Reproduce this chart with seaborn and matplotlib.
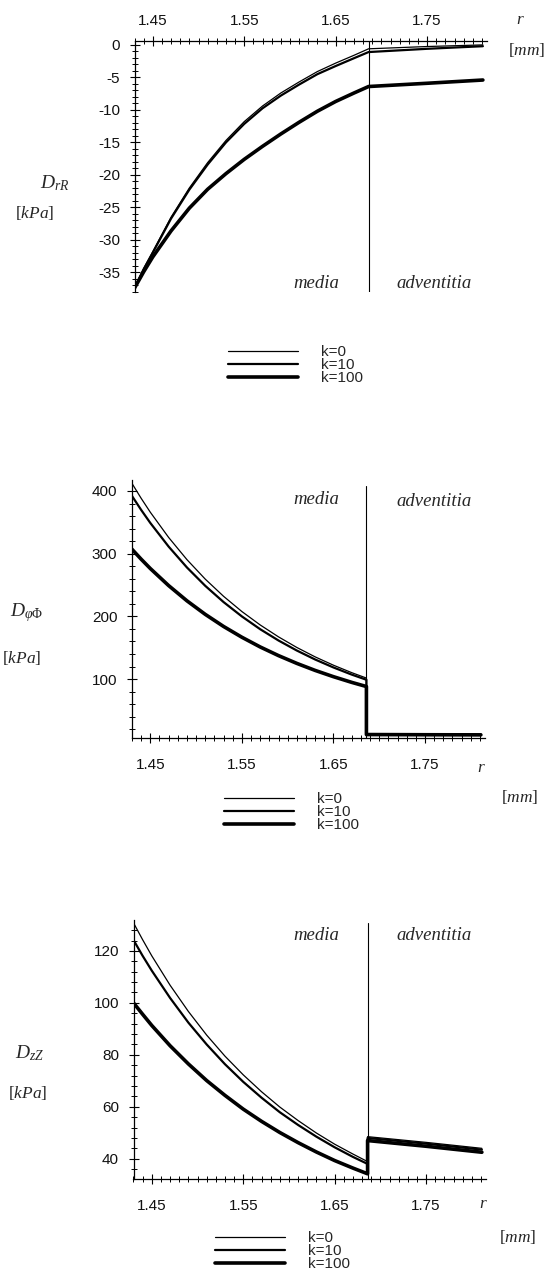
import matplotlib
matplotlib.use("Agg")
import matplotlib.pyplot as plt
from matplotlib.lines import Line2D
from matplotlib.ticker import MultipleLocator, FixedLocator, FormatStrFormatter
import numpy as np
import pandas as pd
import seaborn as sns

# ---------------- data ----------------
k_labels = ["k=0", "k=10", "k=100"]
r_media = [1.430, 1.440, 1.450, 1.470, 1.490, 1.510, 1.530, 1.550,
           1.570, 1.590, 1.610, 1.630, 1.650, 1.670, 1.686]
r_adv = [1.686, 1.750, 1.811]
r_interface = 1.686

# D_rR [kPa]
drr_media_k0 = [-37.4, -34.4, -31.8, -26.5, -22.0, -18.1, -14.7, -11.8,
                -9.4, -7.4, -5.7, -4.1, -2.8, -1.6, -0.6]
drr_media_k10 = [-37.4, -34.5, -31.95, -26.7, -22.25, -18.4, -15.0, -12.15,
                 -9.75, -7.8, -6.1, -4.5, -3.25, -2.05, -1.1]
drr_media_k100 = [-37.4, -34.9, -32.6, -28.6, -25.1, -22.2, -19.8, -17.6,
                  -15.6, -13.7, -11.9, -10.2, -8.7, -7.4, -6.4]
drr_adv_k0 = [-0.6, -0.25, 0.0]
drr_adv_k10 = [-1.1, -0.6, -0.2]
drr_adv_k100 = [-6.4, -5.9, -5.4]

# D_phiPhi [kPa]
dpp_media_k0 = [412.0, 388.3, 366.1, 325.9, 290.5, 259.4, 232.0, 207.7,
                186.3, 167.3, 150.4, 135.4, 122.1, 110.2, 101.6]
dpp_media_k10 = [392.0, 369.8, 349.0, 311.3, 278.0, 248.7, 222.8, 199.9,
                 179.5, 161.5, 145.5, 131.2, 118.5, 107.1, 98.9]
dpp_media_k100 = [307.0, 291.2, 276.3, 249.1, 224.8, 203.2, 183.9, 166.7,
                  151.2, 137.4, 125.0, 113.8, 103.8, 94.7, 88.1]
dpp_adv_k0 = [12.5, 12.2, 12.0]
dpp_adv_k10 = [12.0, 11.7, 11.5]
dpp_adv_k100 = [11.5, 11.2, 11.0]

# D_zZ [kPa]
dzz_media_k0 = [130.8, 124.3, 118.1, 106.8, 96.7, 87.6, 79.5, 72.3,
                65.8, 59.9, 54.7, 49.9, 45.6, 41.8, 38.9]
dzz_media_k10 = [124.2, 118.1, 112.4, 101.9, 92.4, 84.0, 76.4, 69.6,
                 63.5, 57.9, 53.0, 48.5, 44.4, 40.7, 38.0]
dzz_media_k100 = [100.0, 95.6, 91.3, 83.5, 76.5, 70.1, 64.4, 59.1,
                  54.4, 50.1, 46.2, 42.6, 39.3, 36.4, 34.2]
dzz_adv_k0 = [48.5, 46.3, 44.0]
dzz_adv_k10 = [48.0, 45.8, 43.5]
dzz_adv_k100 = [47.0, 44.8, 42.5]

x_ticks = [1.45, 1.55, 1.65, 1.75]
drr_ticks = [0, -5, -10, -15, -20, -25, -30, -35]
dpp_ticks = [100, 200, 300, 400]
dzz_ticks = [40, 60, 80, 100, 120]

# ---------------- helpers ----------------
def build_df(media, adv):
    rows = []
    for lab, m, a in zip(k_labels, media, adv):
        rr = r_media + r_adv
        vv = list(m) + list(a)
        for i, (x, y) in enumerate(zip(rr, vv)):
            rows.append({"k": lab, "r": x, "v": y, "i": i})
    return pd.DataFrame(rows)

W, H = 549, 1278
def fx(x):
    return x / W
def fy(y):
    return 1 - y / H

sns.set_theme(style="white")
plt.rcParams["font.family"] = ["Liberation Sans", "DejaVu Sans"]
plt.rcParams["axes.unicode_minus"] = False
plt.rcParams["mathtext.fontset"] = "custom"
plt.rcParams["mathtext.rm"] = "Liberation Serif"
plt.rcParams["mathtext.it"] = "Liberation Serif:italic"
plt.rcParams["mathtext.bf"] = "Liberation Serif:bold"

fig = plt.figure(figsize=(W / 100, H / 100), dpi=100)
fig.patch.set_facecolor("white")

palette = {lab: "black" for lab in k_labels}
sizes = {"k=0": 0.9, "k=10": 1.6, "k=100": 2.6}

# (left, top, right, bottom) in pixels
boxes = [
    (134.5, 41, 487, 292),
    (132.0, 480, 485, 738),
    (133.5, 920, 486, 1179),
]
ylims = [(-38.0, 0.6), (6, 417.5), (32.2, 131.9)]
yticks = [drr_ticks, dpp_ticks, dzz_ticks]
yminor = [1, 20, 4]
dfs = [
    build_df([drr_media_k0, drr_media_k10, drr_media_k100], [drr_adv_k0, drr_adv_k10, drr_adv_k100]),
    build_df([dpp_media_k0, dpp_media_k10, dpp_media_k100], [dpp_adv_k0, dpp_adv_k10, dpp_adv_k100]),
    build_df([dzz_media_k0, dzz_media_k10, dzz_media_k100], [dzz_adv_k0, dzz_adv_k10, dzz_adv_k100]),
]
vline_top = [1.0, 0.977, 0.99]

axes = []
for j, (box, df) in enumerate(zip(boxes, dfs)):
    l, t, r, b = box
    ax = fig.add_axes([fx(l), fy(b), (r - l) / W, (b - t) / H])
    ax.set_facecolor("white")
    sns.lineplot(data=df, x="r", y="v", hue="k", size="k", sizes=sizes,
                 palette=palette, estimator=None, sort=False, units="k",
                 legend=False, ax=ax)
    for ln in ax.lines:
        ln.set_solid_joinstyle("round")
    ax.set_xlim(1.43, 1.8155)
    ax.set_ylim(*ylims[j])
    ax.axvline(r_interface, ymin=0, ymax=vline_top[j], color="black", lw=0.8)
    ax.set_xlabel("")
    ax.set_ylabel("")
    ax.xaxis.set_major_locator(FixedLocator(x_ticks))
    ax.xaxis.set_minor_locator(MultipleLocator(0.01))
    ax.xaxis.set_major_formatter(FormatStrFormatter("%.2f"))
    ax.yaxis.set_major_locator(FixedLocator(yticks[j]))
    ax.yaxis.set_minor_locator(MultipleLocator(yminor[j]))
    for s in ax.spines.values():
        s.set_visible(False)
        s.set_color("black")
        s.set_linewidth(0.9)
    ax.spines["left"].set_visible(True)
    if j == 0:
        ax.spines["top"].set_visible(True)
        ax.xaxis.tick_top()
        ax.tick_params(axis="x", which="both", top=True, bottom=False, pad=6)
    else:
        ax.spines["bottom"].set_visible(True)
        ax.tick_params(axis="x", which="both", bottom=True, top=False, pad=11)
    ax.tick_params(axis="y", which="both", left=True, right=False, pad=7)
    ax.tick_params(which="major", direction="inout", length=7, width=0.8,
                   color="black", labelsize=11, labelcolor="#111111")
    ax.tick_params(which="minor", direction="inout", length=4, width=0.7, color="black")
    ax.grid(False)
    axes.append(ax)

# ---------------- texts ----------------
serif_it = {"family": "Liberation Serif", "style": "italic", "size": 13.5}
media_y = [283, 500, 935]
for j in range(3):
    fig.text(fx(316), fy(media_y[j]), "media", ha="center", va="center", fontdict=serif_it)
    fig.text(fx(434), fy(media_y[j] + 1), "adventitia", ha="center", va="center", fontdict=serif_it)

ylabels = [r"$D_{rR}$", r"$D_{\varphi\Phi}$", r"$D_{zZ}$"]
ylab_pos = [(55, 183), (27, 613), (30, 1053)]
kpa_pos = [(35, 213), (22, 658), (28, 1093)]
for j in range(3):
    fig.text(fx(ylab_pos[j][0]), fy(ylab_pos[j][1]), ylabels[j], ha="center", va="center", size=14)
    fig.text(fx(kpa_pos[j][0]), fy(kpa_pos[j][1]), r"$[kPa]$", ha="center", va="center", size=12.5)

r_pos = [(520, 20), (481, 768), (483, 1203)]
mm_pos = [(527, 50), (520, 797), (518, 1237)]
for j in range(3):
    fig.text(fx(r_pos[j][0]), fy(r_pos[j][1]), r"$r$", ha="center", va="center", size=12.5)
    fig.text(fx(mm_pos[j][0]), fy(mm_pos[j][1]), r"$[mm]$", ha="center", va="center", size=12.5)

# ---------------- legends ----------------
leg_pos = [(228, 345), (224, 792), (215, 1231)]
for j in range(3):
    handles = [Line2D([0], [0], color="black", lw=sizes[lab]) for lab in k_labels]
    leg = fig.legend(handles, k_labels, loc="upper left",
                     bbox_to_anchor=(fx(leg_pos[j][0]), fy(leg_pos[j][1])),
                     frameon=False, fontsize=11, handlelength=4.6, handletextpad=1.5,
                     labelspacing=-0.05, borderpad=0, borderaxespad=0)

fig.savefig("out.png", dpi=100, facecolor="white")
